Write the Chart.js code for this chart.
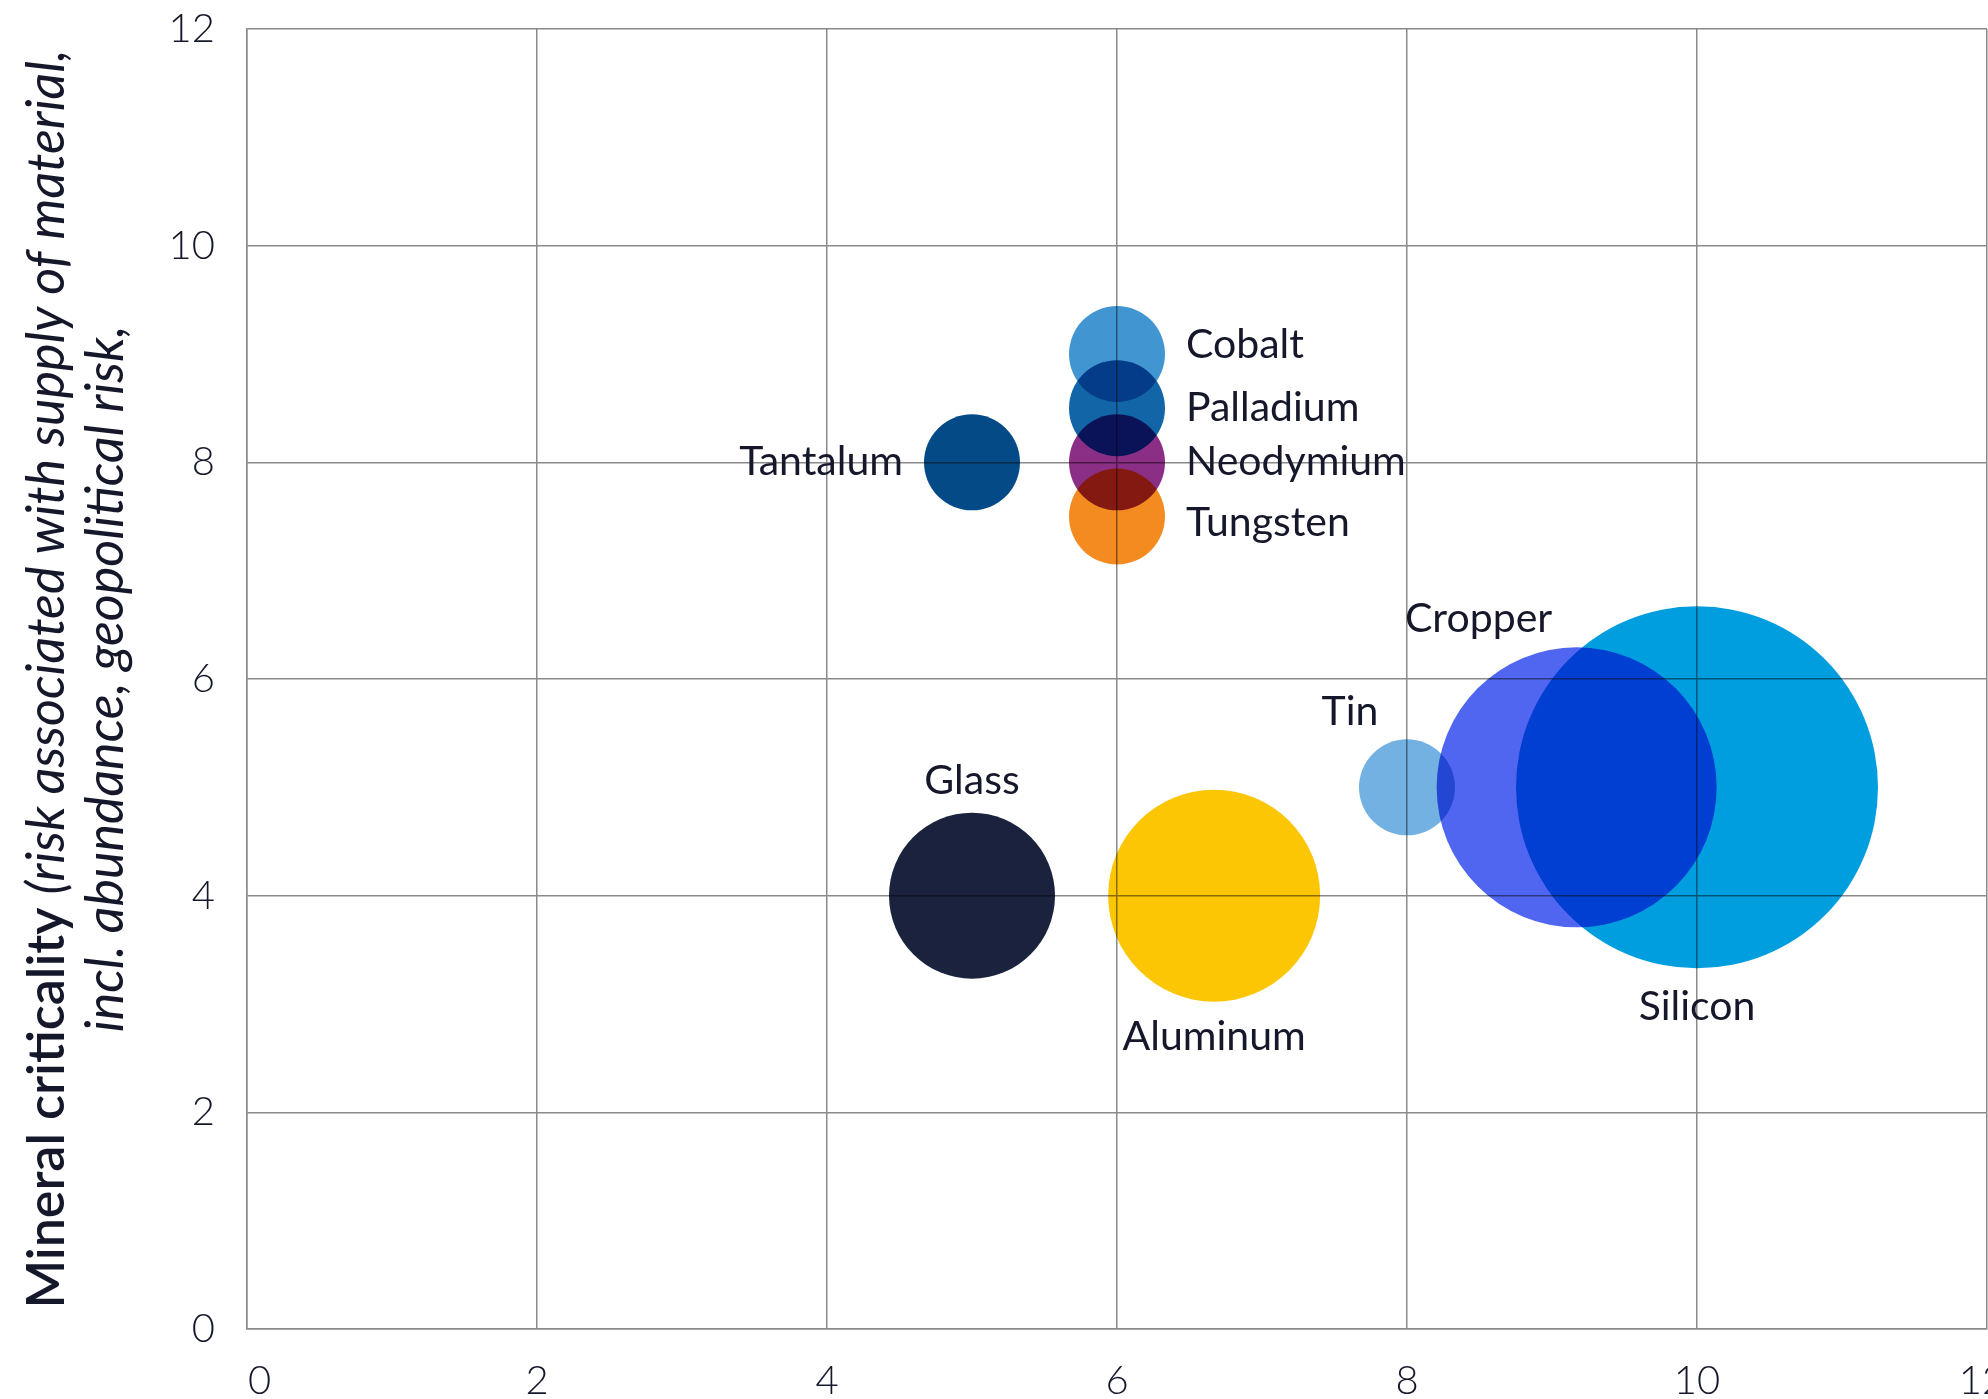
<!DOCTYPE html>
<html>
<head>
<meta charset="utf-8">
<script src="https://cdn.jsdelivr.net/npm/chart.js@4/dist/chart.umd.min.js"></script>
<style>
  html, body { margin: 0; padding: 0; background: #ffffff; }
  #wrap { width: 1988px; height: 1399px; position: relative; }
</style>
</head>
<body>
<div id="wrap"><canvas id="chart" width="1988" height="1399"></canvas></div>
<script>
// Materials plotted as bubbles: x = position, y = mineral criticality, size = bubble radius
const materials   = ['Cobalt', 'Palladium', 'Neodymium', 'Tungsten', 'Tantalum', 'Glass', 'Aluminum', 'Tin', 'Cropper', 'Silicon'];
const xValues     = [6, 6, 6, 6, 5, 5, 6.67, 8, 9.17, 10];
const yValues     = [9, 8.5, 8, 7.5, 8, 4, 4, 5, 5, 5];
const bubbleSize  = [48, 48, 48, 48, 48, 83, 106, 48, 140, 181];
const xTicks      = [0, 2, 4, 6, 8, 10, 12];
const yTicks      = [0, 2, 4, 6, 8, 10, 12];

// Fill colours, one per material
const bubbleColors = ['#4196d2', '#1266a8', '#8a2e86', '#f38b20', '#034a86', '#1b223d', '#fcc605', '#72b1e1', '#5066f0', '#009ede'];

// Where each label sits relative to its bubble
const labelPlacement = {
  Cobalt:    { side: 'right',  gap: 21, dy: 4 },
  Palladium: { side: 'right',  gap: 21, dy: 13 },
  Neodymium: { side: 'right',  gap: 21, dy: 13 },
  Tungsten:  { side: 'right',  gap: 21, dy: 19 },
  Tantalum:  { side: 'left',   gap: 21, dy: 13 },
  Glass:     { side: 'top',    gap: 19, dx: 0 },
  Aluminum:  { side: 'bottom', gap: 48, dx: 0 },
  Tin:       { side: 'top',    gap: 14, dx: -57 },
  Cropper:   { side: 'top',    gap: 15, dx: -98 },
  Silicon:   { side: 'bottom', gap: 52, dx: 0 }
};

const textColor = '#15172a';
const gridColor = '#8a8a8a';

const points = materials.map((m, i) => ({ x: xValues[i], y: yValues[i], r: bubbleSize[i] }));

// White page behind everything so the multiply blend works against white
const backgroundPlugin = {
  id: 'whiteBackground',
  beforeDraw(chart) {
    const ctx = chart.ctx;
    ctx.save();
    ctx.fillStyle = '#ffffff';
    ctx.fillRect(0, 0, chart.width, chart.height);
    ctx.restore();
  }
};

// Overlapping bubbles darken each other like inks
const multiplyPlugin = {
  id: 'multiplyBlend',
  beforeDatasetsDraw(chart) {
    chart.ctx.save();
    chart.ctx.globalCompositeOperation = 'multiply';
  },
  afterDatasetsDraw(chart) {
    chart.ctx.restore();
  }
};

// Name labels next to the bubbles
const labelPlugin = {
  id: 'bubbleLabels',
  afterDatasetsDraw(chart) {
    const ctx = chart.ctx;
    const xs = chart.scales.x, ys = chart.scales.y;
    ctx.save();
    ctx.font = '400 41px Lato';
    ctx.fillStyle = textColor;
    ctx.textBaseline = 'alphabetic';
    materials.forEach((name, i) => {
      const cx = xs.getPixelForValue(xValues[i]);
      const cy = ys.getPixelForValue(yValues[i]);
      const r = bubbleSize[i];
      const p = labelPlacement[name];
      let tx, ty;
      if (p.side === 'right') { ctx.textAlign = 'left'; tx = cx + r + p.gap; ty = cy + p.dy; }
      else if (p.side === 'left') { ctx.textAlign = 'right'; tx = cx - r - p.gap; ty = cy + p.dy; }
      else if (p.side === 'top') { ctx.textAlign = 'center'; tx = cx + p.dx; ty = cy - r - p.gap; }
      else { ctx.textAlign = 'center'; tx = cx + p.dx; ty = cy + r + p.gap; }
      ctx.fillText(name, tx, ty);
    });
    ctx.restore();
  }
};

// Two-line vertical axis title with mixed upright / italic runs
const axisTitlePlugin = {
  id: 'axisTitle',
  afterDraw(chart) {
    const ctx = chart.ctx;
    const area = chart.chartArea;
    const midY = (area.top + area.bottom) / 2;
    const lines = [
      { baseX: 64, runs: [
        { text: 'Mineral criticality ', font: '600 52px Lato' },
        { text: '(risk associated with supply of material,', font: 'italic 400 52px Lato' }
      ]},
      { baseX: 123, runs: [
        { text: 'incl. abundance, geopolitical risk,', font: 'italic 400 52px Lato' }
      ]}
    ];
    ctx.save();
    ctx.fillStyle = textColor;
    ctx.textBaseline = 'alphabetic';
    ctx.textAlign = 'left';
    lines.forEach(line => {
      let total = 0;
      line.runs.forEach(run => { ctx.font = run.font; run.w = ctx.measureText(run.text).width; total += run.w; });
      ctx.save();
      ctx.translate(line.baseX, midY);
      ctx.rotate(-Math.PI / 2);
      let pos = -total / 2;
      line.runs.forEach(run => { ctx.font = run.font; ctx.fillText(run.text, pos, 0); pos += run.w; });
      ctx.restore();
    });
    ctx.restore();
  }
};

// Fixed axis band sizes; edge labels are allowed to run past the plot
function fixBand(size, horizontal) {
  return scale => {
    if (horizontal) scale.height = size; else scale.width = size;
    scale.paddingTop = 0;
    scale.paddingBottom = 0;
    scale.paddingLeft = 0;
    scale.paddingRight = 0;
  };
}

// First and last x labels sit slightly inward from their grid lines
function xTickText(v) {
  if (v === xTicks[0]) return '\u2002\u2009' + v;
  if (v === xTicks[xTicks.length - 1]) return v + '\u2009\u2009';
  return String(v);
}

new Chart(document.getElementById('chart'), {
  type: 'bubble',
  data: {
    datasets: [{
      label: 'Materials',
      data: points,
      backgroundColor: bubbleColors,
      borderWidth: 0,
      hoverRadius: 0
    }]
  },
  options: {
    responsive: false,
    animation: false,
    events: [],
    layout: { autoPadding: false, padding: { left: 0, top: 29, right: 1, bottom: 0 } },
    plugins: { legend: { display: false }, tooltip: { enabled: false } },
    scales: {
      x: {
        type: 'linear',
        min: xTicks[0], max: xTicks[xTicks.length - 1],
        afterFit: fixBand(70, true),
        afterBuildTicks(scale) { scale.ticks = xTicks.map(v => ({ value: v })); },
        grid: { color: gridColor, lineWidth: 1.5, drawTicks: false },
        border: { color: gridColor, width: 1.5 },
        ticks: {
          padding: 28,
          color: textColor,
          font: { family: 'Lato', size: 40, weight: '300' },
          maxRotation: 0,
          callback: v => xTickText(v)
        }
      },
      y: {
        type: 'linear',
        min: yTicks[0], max: yTicks[yTicks.length - 1],
        afterFit: fixBand(247, false),
        afterBuildTicks(scale) { scale.ticks = yTicks.map(v => ({ value: v })); },
        grid: { color: gridColor, lineWidth: 1.5, drawTicks: false },
        border: { color: gridColor, width: 1.5 },
        ticks: {
          padding: 32,
          color: textColor,
          font: { family: 'Lato', size: 40, weight: '300' },
          callback: v => String(v)
        }
      }
    }
  },
  plugins: [backgroundPlugin, multiplyPlugin, labelPlugin, axisTitlePlugin]
});
</script>
</body>
</html>
